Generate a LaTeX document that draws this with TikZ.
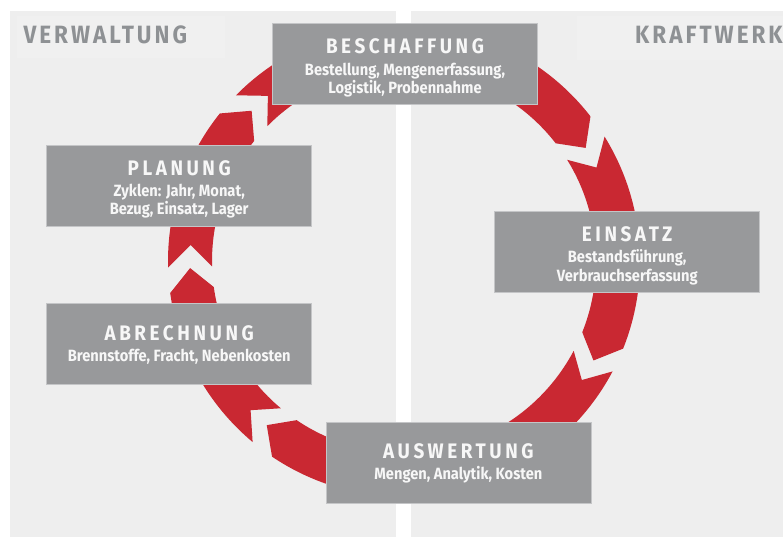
\documentclass[tikz,border=0pt]{standalone}
\usepackage{fontspec}
\setmainfont{Fira Sans}
\newfontfamily\boxfont{Fira Sans}[FakeStretch=0.9]
\newfontfamily\ttlfont{Fira Sans}[FakeStretch=0.9,LetterSpace=17]
\newfontfamily\hdrfont{Fira Sans}[FakeStretch=0.9,LetterSpace=12]
\usetikzlibrary{calc}
\definecolor{panel}{HTML}{EEEEEE}
\definecolor{hdrbg}{HTML}{F0F0F0}
\definecolor{hdrtxt}{HTML}{8E9194}
\definecolor{boxgray}{HTML}{98999B}
\definecolor{boxedge}{HTML}{C4C5C7}
\definecolor{ringred}{HTML}{C92832}
\definecolor{boxtxt}{HTML}{F7F7F7}
\tikzset{
  stagebox/.style={fill=boxgray, draw=boxedge, line width=0.8pt, minimum width=265pt, minimum height=81pt, inner sep=0pt},
  stagetitle/.style={anchor=base, inner sep=0pt, text=boxtxt, font=\ttlfont\bfseries\fontsize{21}{21}\selectfont},
  stagesub/.style={anchor=base, inner sep=0pt, text=boxtxt, font=\boxfont\bfseries\fontsize{16.3}{18}\selectfont},
  hdrlabel/.style={anchor=base west, inner sep=0pt, text=hdrtxt, font=\hdrfont\bfseries\fontsize{25}{25}\selectfont},
  seg/.style={fill=ringred}
}
\newcommand\ringseg[2]{%
  \fill[seg] (#1:214) -- (#1+5.9:236) arc[start angle=#1+5.9, end angle=#2+5.9, radius=236]
    -- (#2:214) -- (#2+5.9:192) arc[start angle=#2+5.9, end angle=#1+5.9, radius=192] -- cycle;}
\begin{document}
\begin{tikzpicture}[x=1pt,y=1pt]
\useasboundingbox (0,0) rectangle (783,537);
% panels
\fill[panel] (10,0) rectangle (396,526);
\fill[panel] (411,0) rectangle (783,526);
\fill[hdrbg] (16.7,521) rectangle (225,478.7);
\fill[hdrbg] (576.7,521) rectangle (783,477);
\node[hdrlabel] (verw) at (23.3,493.7) {VERWALTUNG};
\node[hdrlabel] (kraft) at (635,493.7) {KRAFTWERK};
% ring
\begin{scope}[shift={(404,276)}]
  \ringseg{175.7}{135.4}
  \ringseg{129.5}{31.9}
  \ringseg{25.9}{-27.7}
  \ringseg{-33.8}{-129.9}
  \ringseg{224.2}{181.9}
\end{scope}
% boxes
\node[stagebox] (besch) at (405,473.2) {};
\node[stagebox] (plan) at (179.2,351.5) {};
\node[stagebox] (eins) at (627.2,285.3) {};
\node[stagebox] (abr) at (179.2,192.8) {};
\node[stagebox] (ausw) at (458.4,74.5) {};
% texts
\node[stagetitle] (besch-t) at ([yshift=-30.7]besch.north) {BESCHAFFUNG};
\node[stagesub] (besch-s1) at ([yshift=-52.2]besch.north) {Bestellung, Mengenerfassung,};
\node[stagesub] (besch-s2) at ([yshift=-70.4]besch.north) {Logistik, Probennahme};
\node[stagetitle] (plan-t) at ([yshift=-30.7]plan.north) {PLANUNG};
\node[stagesub] (plan-s1) at ([yshift=-52.2]plan.north) {Zyklen: Jahr, Monat,};
\node[stagesub] (plan-s2) at ([yshift=-70.4]plan.north) {Bezug, Einsatz, Lager};
\node[stagetitle] (eins-t) at ([yshift=-30.7]eins.north) {EINSATZ};
\node[stagesub] (eins-s1) at ([yshift=-52.2]eins.north) {Bestandsführung,};
\node[stagesub] (eins-s2) at ([yshift=-70.4]eins.north) {Verbrauchserfassung};
\node[stagetitle] (abr-t) at ([yshift=-37]abr.north) {ABRECHNUNG};
\node[stagesub] (abr-s1) at ([yshift=-58.4]abr.north) {Brennstoffe, Fracht, Nebenkosten};
\node[stagetitle] (ausw-t) at ([yshift=-37]ausw.north) {AUSWERTUNG};
\node[stagesub] (ausw-s1) at ([yshift=-58.4]ausw.north) {Mengen, Analytik, Kosten};
\end{tikzpicture}
\end{document}
